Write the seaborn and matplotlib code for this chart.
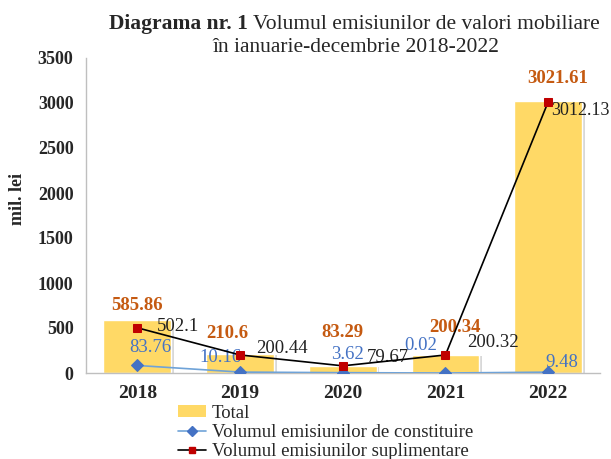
# plot.py
# Volumul emisiunilor de valori mobiliare, 2018-2022 (bars + two lines)

import numpy as np
import pandas as pd
import seaborn as sns
import matplotlib.pyplot as plt
import matplotlib.patheffects as pe
from matplotlib.lines import Line2D
from matplotlib.patches import Patch

# --- data ---
years = ['2018', '2019', '2020', '2021', '2022']
total = [585.86, 210.6, 83.29, 200.34, 3021.61]
constituire = [83.76, 10.16, 3.62, 0.02, 9.48]
suplimentare = [502.1, 200.44, 79.67, 200.32, 3012.13]

# label offsets in pixels (dx, dy) relative to each point
off_total = [(0, 15), (-13, 21), (0, 33), (10, 27), (10, 23)]
off_sup = [(41, 1), (42, 6), (45, 8), (47, 12), (61, -9)]
off_con = [(13, 18), (-20, 15), (5, 18), (-25, 27), (14, 10)]

df = pd.DataFrame({'an': years, 'total': total,
                   'constituire': constituire, 'suplimentare': suplimentare})

# --- style ---
sns.set_theme(style='white')
plt.rcParams['font.family'] = ['Liberation Serif', 'DejaVu Serif']

BAR = '#FFD966'
ORANGE = '#C55A11'
BLUE_LINE = '#6FA3D8'
BLUE = '#4472C4'
RED = '#C00000'
GRID = '#BFBFBF'

fig = plt.figure(figsize=(6.11, 4.59), dpi=100)
ax = fig.add_axes([86 / 611, 1 - 373 / 459, (599.5 - 86) / 611, (373 - 58) / 459])

# bars
sns.barplot(data=df, x='an', y='total', color=BAR, saturation=1, width=0.66, ax=ax)
for bar in ax.patches:
    bar.set_path_effects([pe.SimplePatchShadow(offset=(2, -1), shadow_rgbFace='gray', alpha=0.3),
                          pe.Normal()])

xs = np.arange(len(years))
sns.lineplot(x=xs, y=df['constituire'], color=BLUE_LINE, linewidth=1.2, marker='D',
             markersize=6, markerfacecolor=BLUE, markeredgecolor=BLUE, ax=ax, zorder=3)
sns.lineplot(x=xs, y=df['suplimentare'], color='black', linewidth=1.2, marker='s',
             markersize=6, markerfacecolor=RED, markeredgecolor=RED, ax=ax, zorder=4)

# data labels
last = len(years) - 1
for i in range(len(years)):
    ax.annotate(f'{total[i]:g}', xy=(i, total[i]), xytext=off_total[i], textcoords='offset pixels',
                ha='center', va='center', color=ORANGE, fontsize=13.5, fontweight='bold')
    # the last black label sits against the right edge, so anchor it on its right side
    ax.annotate(f'{suplimentare[i]:g}', xy=(i, suplimentare[i]), xytext=off_sup[i],
                textcoords='offset pixels', ha='right' if i == last else 'center', va='center',
                color='#222222', fontsize=13 if i == last else 13.5)
    ax.annotate(f'{constituire[i]:g}', xy=(i, constituire[i]), xytext=off_con[i],
                textcoords='offset pixels', ha='center', va='center', color=BLUE, fontsize=13.5)

# axes
ax.set_xlim(-0.5, 4.5)
ax.set_ylim(0, 3500)
ax.set_yticks(np.arange(0, 3501, 500))
ax.set_xlabel('')
ax.set_ylabel('')
for s in ['top', 'right']:
    ax.spines[s].set_visible(False)
for s in ['left', 'bottom']:
    ax.spines[s].set_color(GRID)
    ax.spines[s].set_linewidth(1)
ax.tick_params(axis='y', length=5, color=GRID, labelsize=13, pad=4)
ax.tick_params(axis='x', length=0, labelsize=14, pad=9)
for lab in ax.get_xticklabels() + ax.get_yticklabels():
    lab.set_fontweight('bold')

fig.text(17 / 611, 1 - 199 / 459, 'mil. lei', rotation=90, ha='center', va='center',
         fontsize=13, fontweight='bold')

# title (bold prefix + normal text)
t1 = fig.text(109 / 611, 1 - 34 / 459, 'Diagrama nr. 1', ha='left', va='bottom',
              fontsize=15.5, fontweight='bold')
ax.annotate('Volumul emisiunilor de valori mobiliare', xy=(1, 0), xycoords=t1,
            xytext=(4, 0), textcoords='offset points', ha='left', va='bottom', fontsize=15.5)
fig.text(356 / 611, 1 - 57 / 459, 'în ianuarie-decembrie 2018-2022', ha='center', va='bottom',
         fontsize=15.5)

# legend
handles = [
    Patch(facecolor=BAR, edgecolor='none'),
    Line2D([], [], color=BLUE_LINE, lw=1.2, marker='D', markersize=5,
           markerfacecolor=BLUE, markeredgecolor=BLUE),
    Line2D([], [], color='black', lw=1.2, marker='s', markersize=5,
           markerfacecolor=RED, markeredgecolor=RED),
]
labels = ['Total', 'Volumul emisiunilor de constituire', 'Volumul emisiunilor suplimentare']
fig.legend(handles, labels, loc='upper left', bbox_to_anchor=(178 / 611, 1 - 405 / 459),
           frameon=False, fontsize=13.5, borderpad=0, borderaxespad=0, labelspacing=0.12,
           handlelength=1.5, handletextpad=0.3, handleheight=0.6)

plt.savefig('out.png', dpi=100)
